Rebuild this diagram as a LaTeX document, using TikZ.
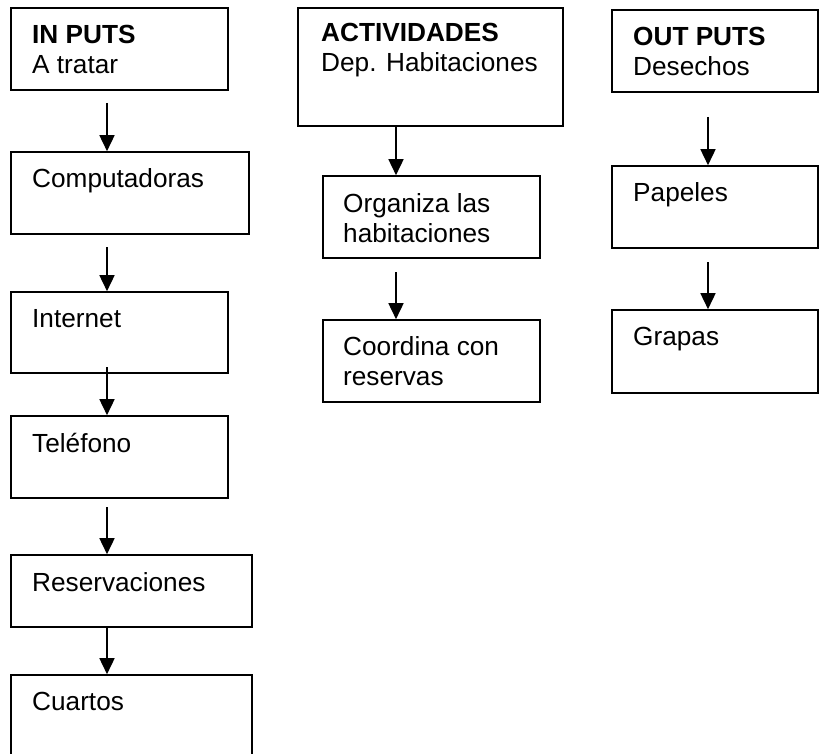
\documentclass[tikz,border=0pt]{standalone}
\usepackage{fontspec}
\setmainfont{Liberation Sans}
\usetikzlibrary{arrows.meta}
\begin{document}
\begin{tikzpicture}[x=1pt,y=-1pt,
  box/.style={draw=black,line width=1.6pt,rectangle,inner sep=0pt},
  txt/.style={anchor=base west,inner sep=0pt,align=left,
    font=\fontsize{26.2}{30}\selectfont},
  flow/.style={line width=1.6pt,-{Triangle[width=15pt,length=16pt]}}]
\useasboundingbox (0,0) rectangle (819,754);
% box from corner (x1,y1) to corner (x2,y2)
\newcommand\mybox[5]{%
  \node[box,minimum width={#4-#2},minimum height={#5-#3}]
    (#1) at ({(#2+#4)/2},{(#3+#5)/2}) {};}
% inputs column
\mybox{in1}{11}{8}{228}{90}
\mybox{in2}{11}{152}{249}{234}
\mybox{in3}{11}{292}{228}{373}
\mybox{in4}{11}{416}{228}{498}
\mybox{in5}{11}{555}{252}{627}
\mybox{in6}{11}{675}{252}{762}
% activities column
\mybox{ac1}{298}{8}{563}{126}
\mybox{ac2}{323}{176}{540}{258}
\mybox{ac3}{323}{320}{540}{402}
% outputs column
\mybox{ou1}{612}{10}{818}{92}
\mybox{ou2}{612}{166}{818}{248}
\mybox{ou3}{612}{310}{818}{393}
% labels (two-line labels sit on their last baseline)
\node[txt] (t1) at (32,74) {\textbf{IN PUTS}\\A tratar};
\node[txt] (t2) at (32,188) {Computadoras};
\node[txt] (t3) at (32,327) {Internet};
\node[txt] (t4) at (32,452) {Teléfono};
\node[txt] (t5) at (32,591) {Reservaciones};
\node[txt] (t6) at (32,710) {Cuartos};
\node[txt] (t7) at (321,72) {\textbf{ACTIVIDADES}\\Dep. Habitaciones};
\node[txt] (t8) at (343,242) {Organiza las\\habitaciones};
\node[txt] (t9) at (343,385) {Coordina con\\reservas};
\node[txt] (t10) at (633,76) {\textbf{OUT PUTS}\\Desechos};
\node[txt] (t11) at (633,202) {Papeles};
\node[txt] (t12) at (633,345) {Grapas};
% arrow tails
\coordinate (s1) at (107,103);
\coordinate (s2) at (107,247);
\coordinate (s3) at (107,367);
\coordinate (s4) at (107,507);
\coordinate (s5) at (107,627);
\coordinate (s6) at (396,126);
\coordinate (s7) at (396,272);
\coordinate (s8) at (708,117);
\coordinate (s9) at (708,262);
% connectors
\draw[flow] (s1) -- (s1 |- in2.north);
\draw[flow] (s2) -- (s2 |- in3.north);
\draw[flow] (s3) -- (s3 |- in4.north);
\draw[flow] (s4) -- (s4 |- in5.north);
\draw[flow] (s5) -- (s5 |- in6.north);
\draw[flow] (s6) -- (s6 |- ac2.north);
\draw[flow] (s7) -- (s7 |- ac3.north);
\draw[flow] (s8) -- (s8 |- ou2.north);
\draw[flow] (s9) -- (s9 |- ou3.north);
\end{tikzpicture}
\end{document}
